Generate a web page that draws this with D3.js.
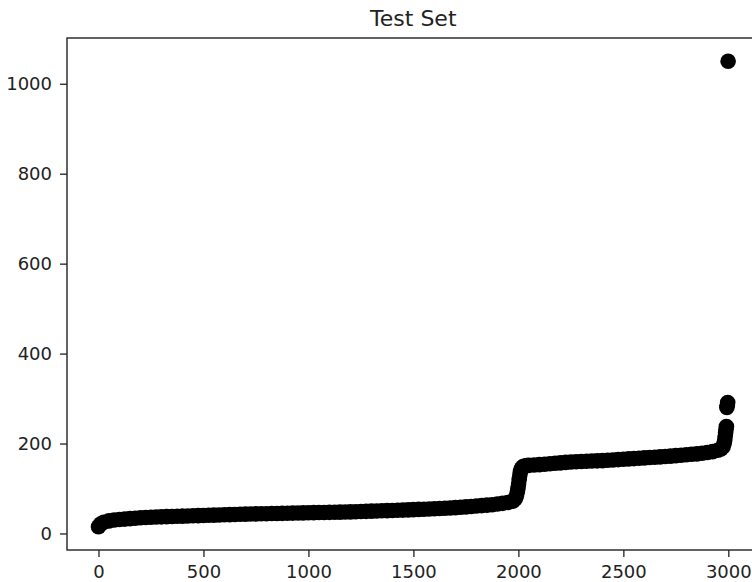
<!DOCTYPE html>
<html>
<head>
<meta charset="utf-8">
<script src="https://cdn.jsdelivr.net/npm/d3@7"></script>
<style>
  html, body { margin: 0; padding: 0; background: #fff; }
  svg { display: block; }
  text { font-family: "DejaVu Sans", sans-serif; fill: #222; }
</style>
</head>
<body>
<svg id="chart" width="752" height="582"></svg>
<script>
// Sorted sample positions (x) and their values (y)
const sampleIndex = [
  0, 10, 25, 50, 75, 100, 125, 150, 175, 200, 225, 250, 275, 300, 325, 350, 375,
  400, 425, 450, 475, 500, 525, 550, 575, 600, 625, 650, 675, 700, 725, 750, 775,
  800, 825, 850, 875, 900, 925, 950, 975, 1000, 1025, 1050, 1075, 1100, 1125, 1150,
  1175, 1200, 1225, 1250, 1275, 1300, 1325, 1350, 1375, 1400, 1425, 1450, 1475,
  1500, 1525, 1550, 1575, 1600, 1625, 1650, 1675, 1700, 1725, 1750, 1775, 1800,
  1825, 1850, 1875, 1900, 1925, 1950, 1975,
  1985, 1990, 1995, 1998, 2001, 2004, 2007, 2010, 2014, 2020, 2030, 2040,
  2050, 2075, 2100, 2125, 2150, 2175, 2200, 2225, 2250, 2275, 2300, 2325, 2350,
  2375, 2400, 2425, 2450, 2475, 2500, 2525, 2550, 2575, 2600, 2625, 2650, 2675,
  2700, 2725, 2750, 2775, 2800, 2825, 2850, 2875, 2900, 2925, 2950, 2965,
  2975, 2980, 2983, 2985, 2987, 2989, 2991, 2993, 2995, 2997, 2999
];
const sampleValue = [
  15, 21, 25, 28, 30, 31, 32, 33, 34, 34.8, 35.4, 36, 36.5, 37, 37.4, 37.8, 38.2,
  38.6, 39, 39.4, 39.7, 40, 40.4, 40.8, 41.1, 41.5, 41.9, 42.2, 42.6, 43, 43.2, 43.5, 43.8,
  44, 44.3, 44.5, 44.8, 45, 45.3, 45.5, 45.8, 46, 46.3, 46.5, 46.8, 47, 47.3, 47.5,
  47.8, 48, 48.4, 48.8, 49.2, 49.6, 50, 50.4, 50.8, 51.2, 51.6, 52, 52.5,
  53, 53.5, 54, 54.5, 55, 55.6, 56.2, 56.8, 57.5, 58.3, 59.1, 60, 61,
  62, 63, 64, 65.5, 67, 69, 72,
  77, 83, 92, 100, 110, 120, 130, 138, 144, 148, 150, 151,
  151.5, 152.3, 153, 154, 155, 156, 157, 158, 159, 159.5, 160, 160.5, 161,
  161.5, 162, 162.8, 163.5, 164.3, 165, 165.8, 166.5, 167.3, 168, 168.8, 169.5, 170.3,
  171, 172, 173, 174, 175, 176, 177, 178.5, 180, 182, 185, 188,
  193, 200, 208, 216, 224, 232, 238, 280, 285, 291, 1050
];
const xTicks = [0, 500, 1000, 1500, 2000, 2500, 3000];
const yTicks = [0, 200, 400, 600, 800, 1000];
const chartTitle = "Test Set";

const svg = d3.select("#chart");
const plotLeft = 67, plotRight = 759.6, plotTop = 38, plotBottom = 550;

// Auto-style limits: data extent padded by 5% on each side
function padded(ext) {
  const p = (ext[1] - ext[0]) * 0.05;
  return [ext[0] - p, ext[1] + p];
}
const x = d3.scaleLinear().domain(padded([0, 2999])).range([plotLeft, plotRight]);
const y = d3.scaleLinear().domain(padded(d3.extent(sampleValue))).range([plotBottom, plotTop]);

const points = sampleIndex.map((d, i) => ({ i: d, v: sampleValue[i] }));

// Markers
svg.append("g")
  .selectAll("circle")
  .data(points)
  .join("circle")
  .attr("cx", d => x(d.i))
  .attr("cy", d => y(d.v))
  .attr("r", 7.8)
  .attr("fill", "#000");

// Axes
const xAxis = svg.append("g")
  .attr("transform", `translate(0,${plotBottom})`)
  .call(d3.axisBottom(x).tickValues(xTicks).tickFormat(d3.format("d")).tickSize(7).tickPadding(8));
const yAxis = svg.append("g")
  .attr("transform", `translate(${plotLeft},0)`)
  .call(d3.axisLeft(y).tickValues(yTicks).tickFormat(d3.format("d")).tickSize(7).tickPadding(8));

[xAxis, yAxis].forEach(g => {
  g.select(".domain").remove();
  g.selectAll(".tick line").attr("stroke", "#222").attr("stroke-width", 1.3);
  g.selectAll(".tick text")
    .attr("font-size", 18)
    .attr("font-family", "DejaVu Sans, sans-serif")
    .attr("fill", "#222");
});

// Frame around the plotting area
svg.append("rect")
  .attr("x", plotLeft)
  .attr("y", plotTop)
  .attr("width", plotRight - plotLeft)
  .attr("height", plotBottom - plotTop)
  .attr("fill", "none")
  .attr("stroke", "#222")
  .attr("stroke-width", 1.4);

// Title
svg.append("text")
  .attr("x", (plotLeft + plotRight) / 2)
  .attr("y", 26)
  .attr("text-anchor", "middle")
  .attr("font-size", 22)
  .text(chartTitle);
</script>
</body>
</html>
